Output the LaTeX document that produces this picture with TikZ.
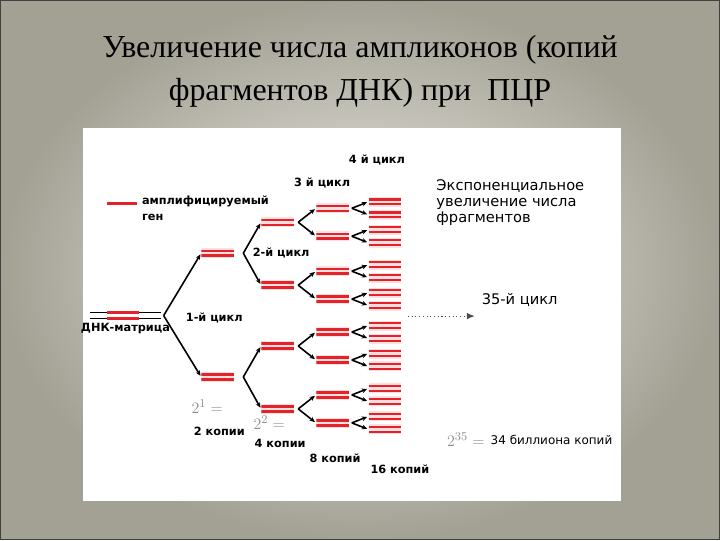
\documentclass[tikz,border=0pt]{standalone}
\usepackage{fontspec}
\setmainfont{Liberation Serif}
\setsansfont{DejaVu Sans}
\usetikzlibrary{arrows.meta, positioning}

\definecolor{slidelight}{HTML}{EEEDE7}
\definecolor{slidedark}{HTML}{A3A194}
\definecolor{dnared}{HTML}{E32229}

\begin{document}
\begin{tikzpicture}[x=0.75pt, y=-0.75pt,
  font=\sffamily,
  lbl/.style={font=\sffamily\bfseries\fontsize{8.5}{12}\selectfont, inner sep=1pt},
  txt/.style={font=\sffamily\fontsize{11}{12}\selectfont, inner sep=1pt},
  pw/.style={font=\fontsize{13}{14}\selectfont, text=black!45, inner sep=1pt},
  strand/.style={dnared, line width=1.8pt},
  pair/.style={minimum width=24.5pt, minimum height=7.5pt, inner sep=0pt, fill=red!12,
    path picture={
      \draw[strand] ([yshift=-1.9pt]path picture bounding box.north west)
        -- ([yshift=-1.9pt]path picture bounding box.north east);
      \draw[strand] ([yshift=1.9pt]path picture bounding box.south west)
        -- ([yshift=1.9pt]path picture bounding box.south east);}},
  fork/.style={line width=1.2pt, -{Stealth[length=4pt, width=3.5pt]}, shorten >=1pt},
  node distance=2mm and 2mm]

  % slide
  \shade[inner color=slidelight, outer color=slidedark] (0,0) rectangle (720,540);
  \draw[black!75, line width=1pt] (0,0) rectangle (720,540);
  \fill[white] (82,128) rectangle (621,501);

  % title
  \node[font=\fontsize{24}{32}\selectfont, align=center] (title) at (360,71)
    {Увеличение числа ампликонов (копий\\фрагментов ДНК) при \ ПЦР};

  % legend
  \draw[dnared, line width=2.2pt] (107,203) -- (137,203);
  \node[lbl, anchor=west, align=left] (legtxt) at (140,208) {амплифицируемый\\ген};

  % template
  \node[inner sep=0pt, minimum width=52.5pt, minimum height=3.75pt] (tmpl) at (125,315.5) {};
  \draw[line width=0.9pt] (tmpl.north west) -- (tmpl.north east)
    (tmpl.south west) -- (tmpl.south east);
  \draw[strand, line width=2.2pt] ([xshift=12.75pt]tmpl.north west) -- ++(24pt,0)
    ([xshift=12.75pt]tmpl.south west) -- ++(24pt,0);
  \node[lbl, below=1mm of tmpl] (tmpllbl) {ДНК-матрица};

  % cycle 1
  \node[pair] (g1) at (217.5,253) {};
  \node[pair] (g2) at (217.5,377) {};
  \coordinate (f0) at ([xshift=2.25pt]tmpl.east);
  \draw[fork] (f0) -- (g1.west);
  \draw[fork] (f0) -- (g2.west);

  % cycle 2
  \foreach \p/\ya/\yb [count=\i] in {g1/222/285, g2/346/409} {
    \node[pair] (h\i a) at (277.5,\ya) {};
    \node[pair] (h\i b) at (277.5,\yb) {};
    \coordinate (f1\i) at ([xshift=6.75pt]\p.east);
    \draw[fork] (f1\i) -- (h\i a.west);
    \draw[fork] (f1\i) -- (h\i b.west);
  }

  % cycles 3 and 4
  \foreach \p/\y [count=\i] in {h1a/222, h1b/285, h2a/346, h2b/409} {
    \node[pair] (k\i a) at (332.5,\y-14) {};
    \node[pair] (k\i b) at (332.5,\y+14) {};
    \coordinate (f2\i) at ([xshift=3pt]\p.east);
    \draw[fork] (f2\i) -- (k\i a.west);
    \draw[fork] (f2\i) -- (k\i b.west);
    \foreach \s/\dy in {a/-14, b/14} {
      \node[pair] (m\i\s1) at (385,\y+\dy-6.5) {};
      \node[pair] (m\i\s2) at (385,\y+\dy+6.5) {};
      \coordinate (f3\i\s) at ([xshift=2pt]k\i\s.east);
      \draw[fork] (f3\i\s) -- (m\i\s1.west);
      \draw[fork] (f3\i\s) -- (m\i\s2.west);
    }
  }

  % cycle labels
  \node[lbl] (cyc4) at (377,160) {4 й цикл};
  \node[lbl] (cyc3) at (322,183) {3 й цикл};
  \node[lbl] (cyc2) at (281,253) {2-й цикл};
  \node[lbl] (cyc1) at (214,318) {1-й цикл};

  % copies
  \node[pw] (pow1) at (207,407) {$2^{1}=$};
  \node[lbl] (cop2) at (219,432) {2 копии};
  \node[pw] (pow2) at (269,423) {$2^{2}=$};
  \node[lbl] (cop4) at (280,444) {4 копии};
  \node[lbl] (cop8) at (335,458) {8 копий};
  \node[lbl] (cop16) at (400,469) {16 копий};

  % exponential growth
  \node[txt, anchor=north west, align=left] (expo) at (435,178)
    {Экспоненциальное\\увеличение числа\\фрагментов};
  \node[txt] (cyc35) at (520,300) {35-й цикл};
  \coordinate (dots) at (408,316);
  \coordinate (dotsend) at (475,316);
  \draw[dotted, thick, black!70, -{Latex[length=6pt, width=5pt]}] (dots) -- (dotsend);
  \node[pw] (pow35) at (466,440) {$2^{35}=$};
  \node[txt, font=\sffamily\fontsize{9}{11}\selectfont, right=0.8mm of pow35] (cop35) {34 биллиона копий};
\end{tikzpicture}
\end{document}
